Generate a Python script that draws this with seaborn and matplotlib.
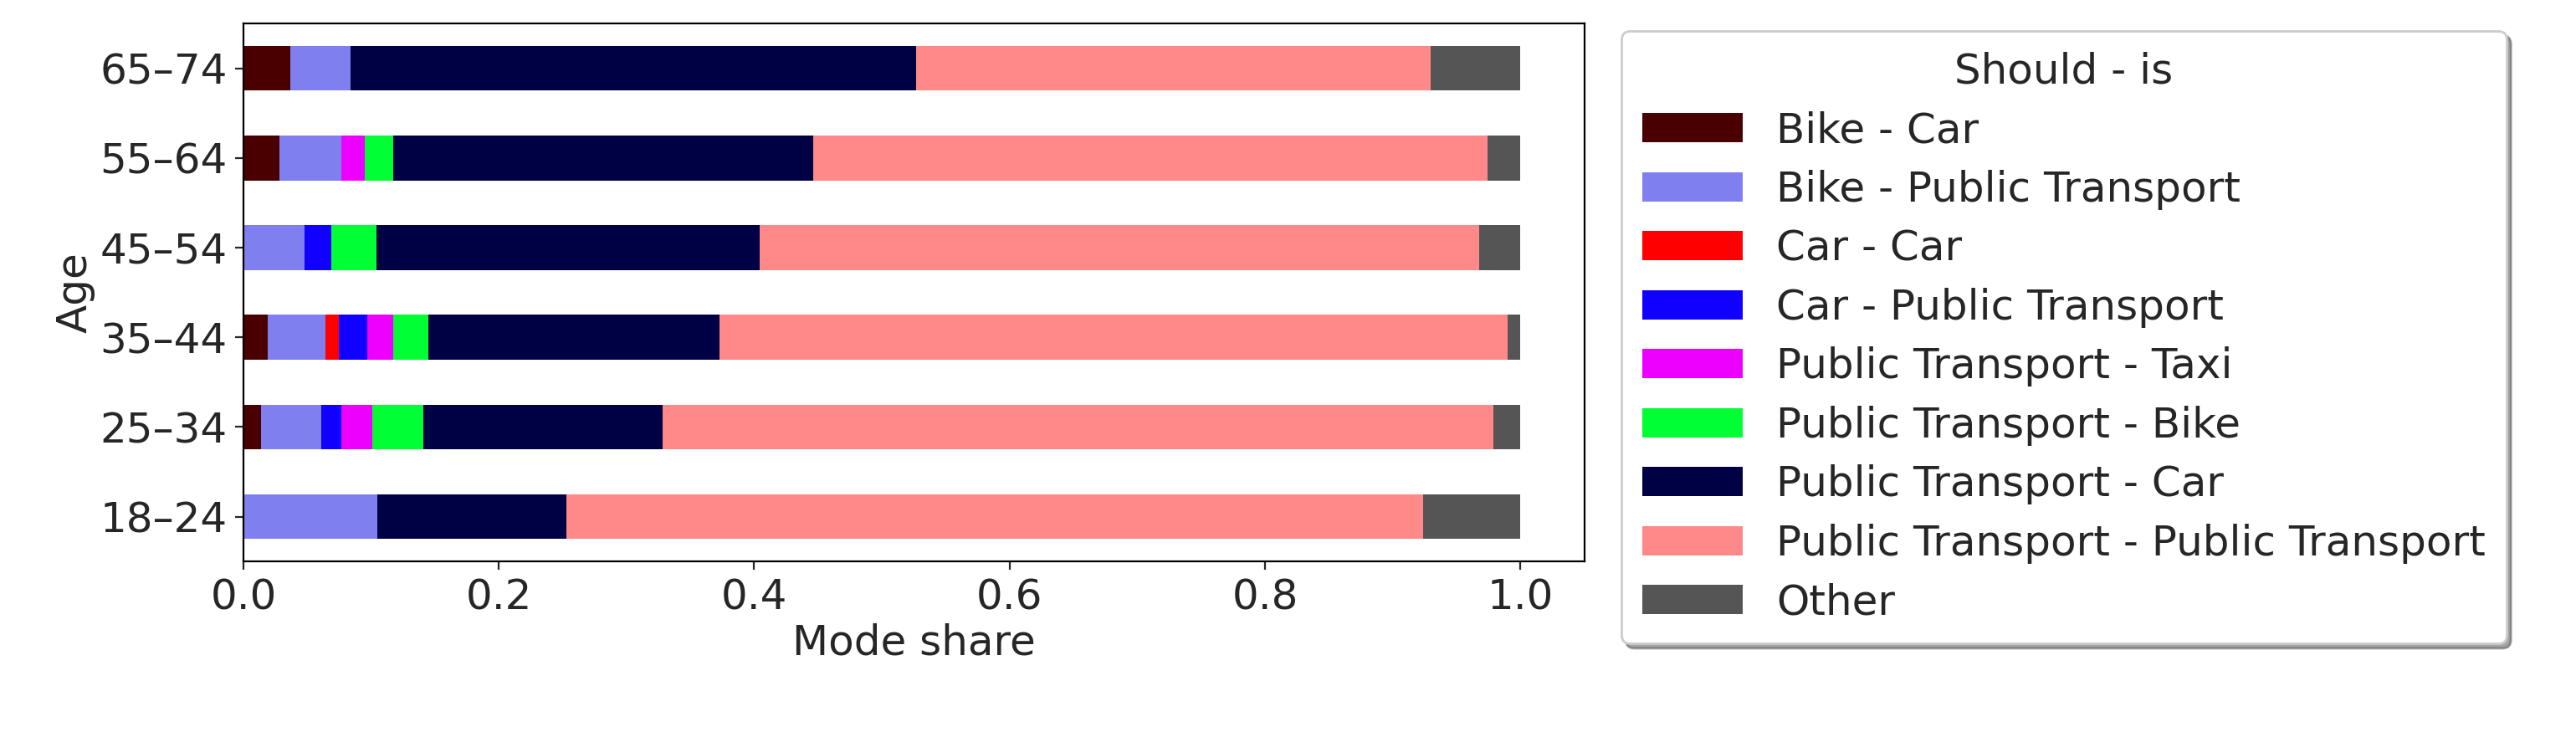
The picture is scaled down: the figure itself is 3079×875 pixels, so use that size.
import matplotlib
matplotlib.use("Agg")
import matplotlib.pyplot as plt
import seaborn as sns
import numpy as np

sns.set_style("ticks")
plt.rcParams['font.family'] = ['DejaVu Sans']

ages = ["18–24", "25–34", "35–44", "45–54", "55–64", "65–74"]
categories = ["Bike - Car", "Bike - Public Transport", "Car - Car", "Car - Public Transport",
              "Public Transport - Taxi", "Public Transport - Bike", "Public Transport - Car",
              "Public Transport - Public Transport", "Other"]
colors = ["#4a0000", "#7f7fef", "#ff0000", "#0f00ff", "#ee00ff", "#00ff33", "#000044", "#ff8888", "#555555"]
# cumulative boundaries per age
cum = {
    "18–24": [0.0, 0.105, 0.105, 0.105, 0.105, 0.105, 0.253, 0.924, 1.0],
    "25–34": [0.014, 0.061, 0.061, 0.077, 0.101, 0.141, 0.328, 0.979, 1.0],
    "35–44": [0.019, 0.064, 0.075, 0.097, 0.117, 0.145, 0.373, 0.990, 1.0],
    "45–54": [0.0, 0.048, 0.048, 0.069, 0.069, 0.104, 0.404, 0.968, 1.0],
    "55–64": [0.028, 0.077, 0.077, 0.077, 0.095, 0.117, 0.446, 0.974, 1.0],
    "65–74": [0.037, 0.084, 0.084, 0.084, 0.084, 0.084, 0.527, 0.930, 1.0],
}

fig = plt.figure(figsize=(15.395, 4.375), dpi=200)
ax = fig.add_axes([0.0945, 0.233, 0.5205, 0.735])
y = np.arange(len(ages))
for i, (cat, col) in enumerate(zip(categories, colors)):
    right = np.array([cum[a][i] for a in ages])
    left = np.array([cum[a][i - 1] if i > 0 else 0.0 for a in ages])
    ax.barh(y, right - left, left=left, height=0.5, color=col, label=cat, linewidth=0)
ax.set_yticks(y)
ax.set_yticklabels(ages)
ax.set_xlim(0, 1.05)
ax.set_ylim(-0.5, 5.5)
ax.tick_params(labelsize=18)
ax.set_xlabel("Mode share", fontsize=18, labelpad=2)
ax.set_ylabel("Age", fontsize=18, labelpad=2)
for s in ax.spines.values():
    s.set_visible(True)
    s.set_color("black")
leg = ax.legend(title="Should - is", loc="upper left", bbox_to_anchor=(1.012, 1.025),
                fontsize=18, title_fontsize=18, shadow=True, frameon=True,
                borderpad=0.5, labelspacing=0.45, handlelength=2.4)
fig.savefig("out.png", dpi=200)
